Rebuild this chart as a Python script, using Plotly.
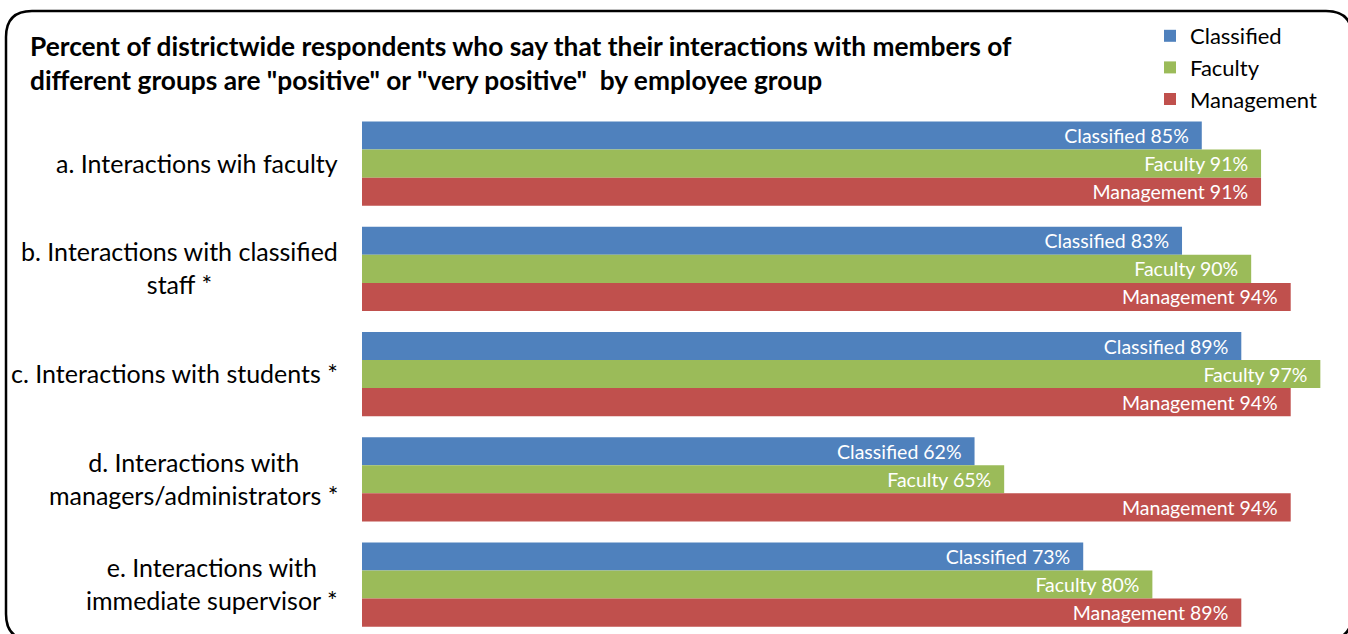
import plotly.graph_objects as go

categories = [
    "a. Interactions wih faculty",
    "b. Interactions with classified<br>staff *",
    "c. Interactions with students *",
    "d. Interactions with<br>managers/administrators *",
    "e. Interactions with<br>immediate supervisor *",
]
series_names = ["Classified", "Faculty", "Management"]
classified = [85, 83, 89, 62, 73]
faculty = [91, 90, 97, 65, 80]
management = [91, 94, 94, 94, 89]
colors = ["#4F81BD", "#9BBB59", "#C0504D"]

title_lines = [
    "Percent of districtwide respondents who say that their interactions with members of",
    "different groups are \"positive\" or \"very positive\"  by employee group",
]

W, H = 1348, 634
ML, MR, MT, MB = 362, 0, 111, 0
PW, PH = W - ML - MR, H - MT - MB
FONT = "Lato"


def px(x):
    return (x - ML) / PW


def py(y):
    return (H - MB - y) / PH


fig = go.Figure()
for name, vals, col in zip(series_names, [classified, faculty, management], colors):
    fig.add_trace(go.Bar(
        name=name, y=categories, x=vals, orientation="h",
        marker=dict(color=col, line=dict(width=0)),
        text=[f"{name} {v}%" for v in vals],
        texttemplate="%{text}\u00a0\u00a0",
        textposition="inside", insidetextanchor="end", constraintext="none",
        textfont=dict(family=FONT, size=19.5, color="white"),
        hoverinfo="skip",
    ))

annotations = []
for c in categories:
    annotations.append(dict(
        xref="paper", yref="y", x=px(340), y=c, yshift=1, text=c, showarrow=False,
        xanchor="right", yanchor="middle", align="center",
        font=dict(family=FONT, size=25, color="black"),
    ))
annotations.append(dict(
    xref="paper", yref="paper", x=px(28), y=py(28), xanchor="left", yanchor="top",
    align="left", showarrow=False, text="<br>".join(f"<b>{t}</b>" for t in title_lines),
    font=dict(family=FONT, size=26.3, color="black"),
))

r = 26
x0, x1, y0, y1 = 6, 1352, 11, 640


def P(x, y):
    return f"{px(x):.5f},{py(y):.5f}"


path = (f"M {P(x0 + r, y0)} L {P(x1 - r, y0)} Q {P(x1, y0)} {P(x1, y0 + r)} "
        f"L {P(x1, y1 - r)} Q {P(x1, y1)} {P(x1 - r, y1)} "
        f"L {P(x0 + r, y1)} Q {P(x0, y1)} {P(x0, y1 - r)} "
        f"L {P(x0, y0 + r)} Q {P(x0, y0)} {P(x0 + r, y0)} Z")

fig.update_layout(
    width=W, height=H,
    margin=dict(l=ML, r=MR, t=MT, b=MB),
    paper_bgcolor="white", plot_bgcolor="white",
    barmode="group", bargap=0.2, bargroupgap=0,
    xaxis=dict(range=[0, 99.8], visible=False),
    yaxis=dict(range=[4.47, -0.5], showticklabels=False, showgrid=False,
               zeroline=False, showline=False, ticks=""),
    legend=dict(x=px(1150), y=py(15), xanchor="left", yanchor="top",
                font=dict(family=FONT, size=22, color="black"),
                bgcolor="rgba(0,0,0,0)", traceorder="normal", itemwidth=30,
                tracegroupgap=0),
    annotations=annotations,
    shapes=[dict(type="path", xref="paper", yref="paper", path=path,
                 line=dict(color="black", width=2.5), layer="above")],
)
fig.write_html(
    "out.html",
    config={"displayModeBar": False},
    post_script="document.body.style.margin='0';document.body.style.overflow='hidden';",
)
